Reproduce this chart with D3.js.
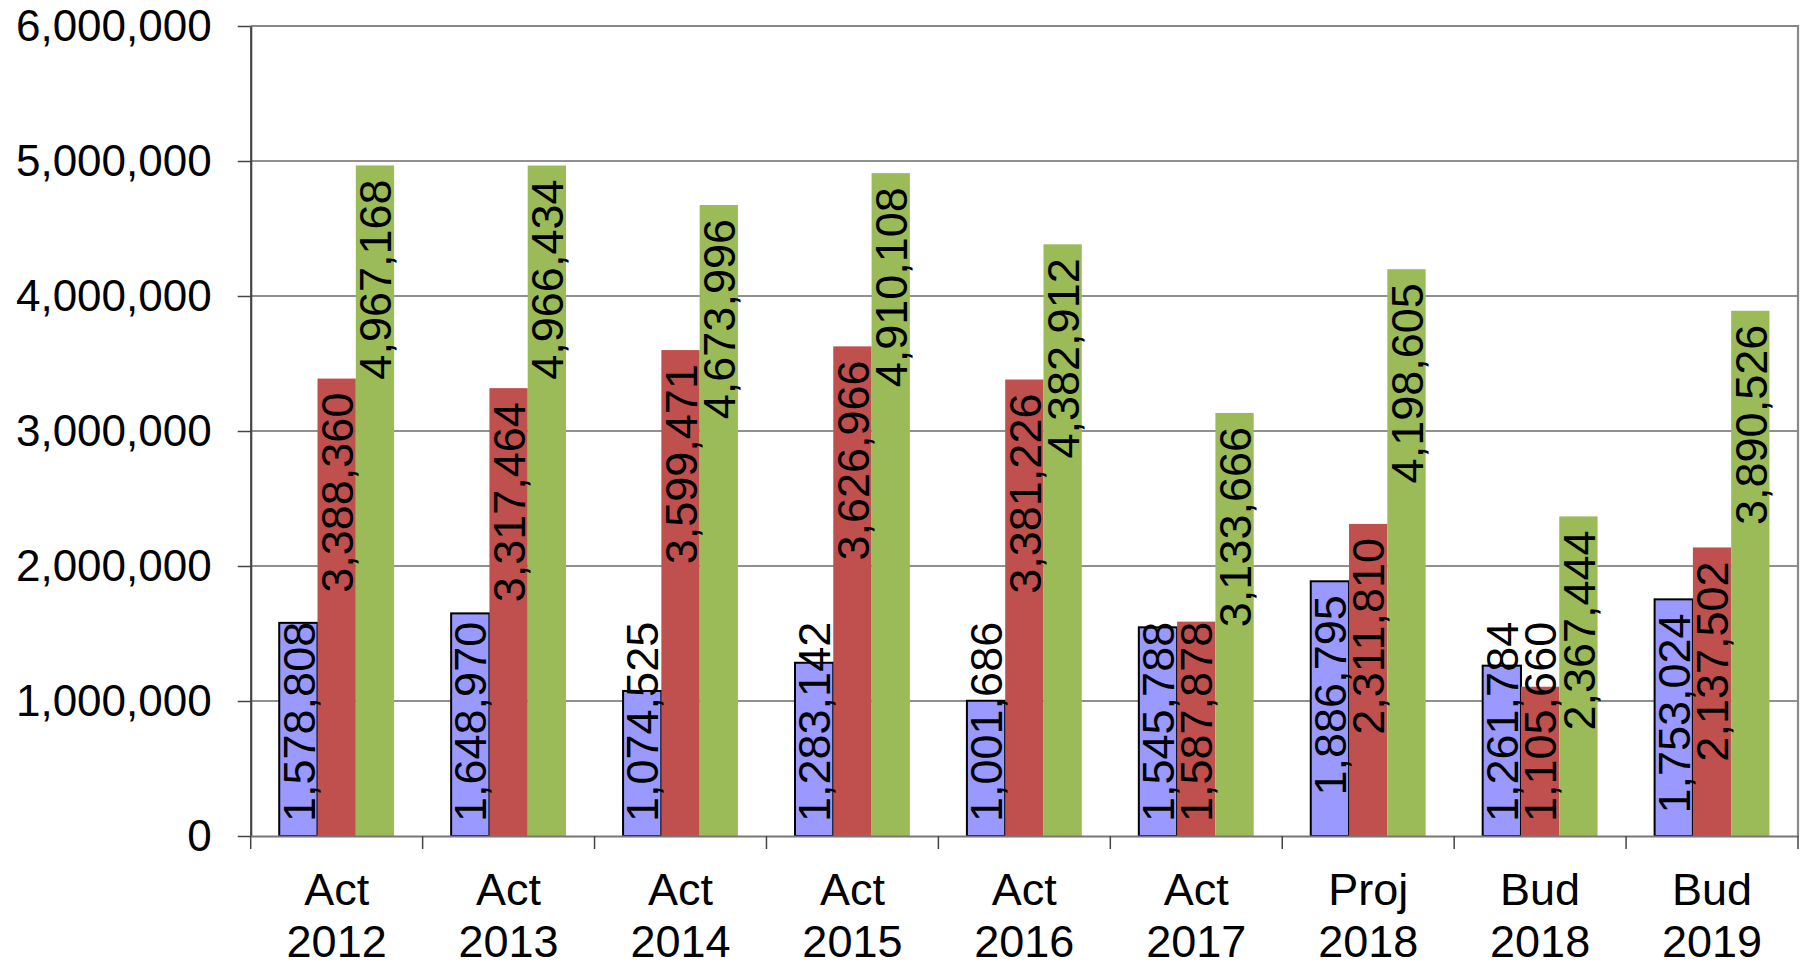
<!DOCTYPE html>
<html>
<head>
<meta charset="utf-8">
<script src="https://cdn.jsdelivr.net/npm/d3@7"></script>
<style>
  body { margin: 0; background: #fff; }
  svg text { font-family: "Liberation Sans", Arial, sans-serif; fill: #000; }
</style>
</head>
<body>
<script>
// chart data
var categories = ["Act 2012", "Act 2013", "Act 2014", "Act 2015", "Act 2016", "Act 2017", "Proj 2018", "Bud 2018", "Bud 2019"];
var seriesNames = ["s1", "s2", "s3"];
var seriesColors = ["#9999ff", "#c0504d", "#9bbb59"];
var series1 = [1578808, 1648970, 1074525, 1283142, 1001686, 1545788, 1886795, 1261784, 1753024];
var series2 = [3388360, 3317464, 3599471, 3626966, 3381226, 1587878, 2311810, 1105660, 2137502];
var series3 = [4967168, 4966434, 4673996, 4910108, 4382912, 3133666, 4198605, 2367444, 3890526];
var yTicks = [0, 1000000, 2000000, 3000000, 4000000, 5000000, 6000000];

var W = 1806, H = 963;
var plot = { left: 250.7, right: 1798, top: 26, bottom: 836 };
var fontSize = 45;
var labelInset = 14;

var svg = d3.select("body").append("svg")
    .attr("width", W)
    .attr("height", H);

var y = d3.scaleLinear()
    .domain([0, 6000000])
    .range([plot.bottom, plot.top]);

var x0 = d3.scaleBand()
    .domain(categories)
    .range([plot.left, plot.right])
    .padding(0);

var x1 = d3.scaleBand()
    .domain(seriesNames)
    .range([0, x0.bandwidth()])
    .paddingInner(0)
    .paddingOuter(0.745);

var fmt = d3.format(",");

// gridlines
svg.append("g")
    .attr("class", "grid")
    .selectAll("line")
    .data(yTicks.filter(function (d) { return d > 0 && d < 6000000; }))
    .enter().append("line")
    .attr("x1", plot.left)
    .attr("x2", plot.right)
    .attr("y1", function (d) { return y(d); })
    .attr("y2", function (d) { return y(d); })
    .style("stroke", "#222")
    .style("stroke-width", 1.2);

// plot frame (top + right)
svg.append("path")
    .attr("d", "M" + plot.left + "," + plot.top + "H" + plot.right + "V" + plot.bottom)
    .style("fill", "none")
    .style("stroke", "#888")
    .style("stroke-width", 2.2);

// bars
var table = categories.map(function (c, i) {
    return { cat: c, values: [series1[i], series2[i], series3[i]] };
});

var groups = svg.append("g")
    .attr("class", "bars")
    .selectAll("g")
    .data(table)
    .enter().append("g")
    .attr("transform", function (d) { return "translate(" + x0(d.cat) + ",0)"; });

groups.selectAll("rect")
    .data(function (d) {
        return d.values.map(function (v, k) { return { key: seriesNames[k], k: k, value: v }; });
    })
    .enter().append("rect")
    .attr("x", function (d) { return x1(d.key); })
    .attr("y", function (d) { return y(d.value); })
    .attr("width", x1.bandwidth())
    .attr("height", function (d) { return y(0) - y(d.value); })
    .style("fill", function (d) { return seriesColors[d.k]; })
    .style("stroke", function (d) { return d.k === 0 ? "#000" : "none"; })
    .style("stroke-width", 2);

// y axis
var yAxis = svg.append("g")
    .attr("class", "y-axis")
    .attr("transform", "translate(" + plot.left + ",0)")
    .call(d3.axisLeft(y)
        .tickValues(yTicks)
        .tickFormat(fmt)
        .tickSizeInner(13)
        .tickSizeOuter(0)
        .tickPadding(26));
yAxis.select(".domain").style("stroke", "#444").style("stroke-width", 2.2);
yAxis.selectAll(".tick line").style("stroke", "#444").style("stroke-width", 1.5);
yAxis.selectAll(".tick text")
    .style("font-size", "44px")
    .attr("dy", "0.33em");

// x axis
var xAxis = svg.append("g")
    .attr("class", "x-axis")
    .attr("transform", "translate(0," + plot.bottom + ")")
    .call(d3.axisBottom(x0).tickSize(0).tickFormat(""));
xAxis.select(".domain").style("stroke", "#777").style("stroke-width", 2.2);

// category boundary ticks
svg.append("g")
    .selectAll("line")
    .data(categories.map(function (c) { return x0(c); }).concat([plot.right]))
    .enter().append("line")
    .attr("x1", function (d) { return d; })
    .attr("x2", function (d) { return d; })
    .attr("y1", plot.bottom)
    .attr("y2", plot.bottom + 13)
    .style("stroke", "#444")
    .style("stroke-width", 1.5);

// category labels (two lines)
var catLabels = svg.append("g").attr("class", "cat-labels");
categories.forEach(function (c) {
    var parts = c.split(" ");
    var t = catLabels.append("text")
        .attr("text-anchor", "middle")
        .attr("x", x0(c) + x0.bandwidth() / 2)
        .style("font-size", fontSize + "px");
    t.append("tspan").attr("x", x0(c) + x0.bandwidth() / 2).attr("y", 905).text(parts[0]);
    t.append("tspan").attr("x", x0(c) + x0.bandwidth() / 2).attr("y", 957).text(parts[1]);
});

// value labels, rotated, inside end (falls back to inside base)
var labels = svg.append("g").attr("class", "labels");
table.forEach(function (row) {
    row.values.forEach(function (v, k) {
        var cx = x0(row.cat) + x1(seriesNames[k]) + x1.bandwidth() / 2;
        var t = labels.append("text")
            .attr("text-anchor", "start")
            .attr("dy", "0.36em")
            .style("font-size", fontSize + "px")
            .text(fmt(v));
        var len = t.node().getComputedTextLength();
        var start = Math.min(y(0) - labelInset, y(v) + labelInset + len);
        t.attr("transform", "translate(" + cx + "," + start + ") rotate(-90)");
    });
});
</script>
</body>
</html>
